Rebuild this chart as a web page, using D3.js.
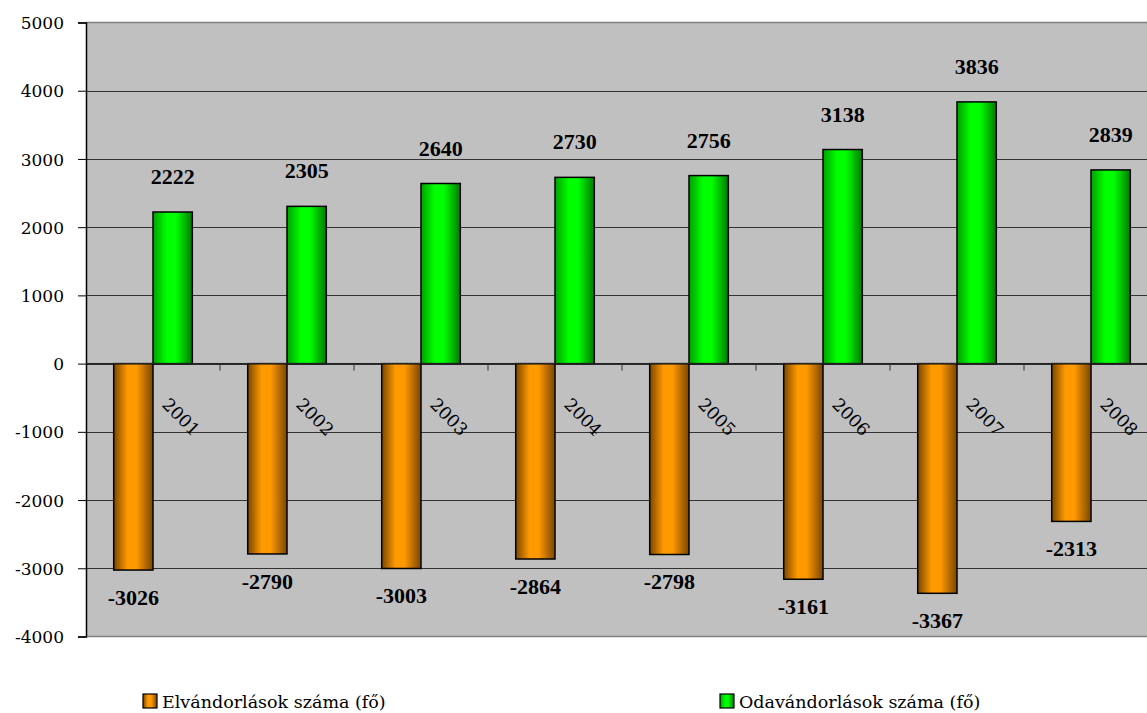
<!DOCTYPE html>
<html>
<head>
<meta charset="utf-8">
<script src="https://cdn.jsdelivr.net/npm/d3@7"></script>
<style>
  html, body { margin: 0; padding: 0; background: #ffffff; }
  svg { display: block; }
</style>
</head>
<body>
<svg id="chart" width="1147" height="713"></svg>
<script>
const years = ["2001", "2002", "2003", "2004", "2005", "2006", "2007", "2008"];
const elvandorlasok = [-3026, -2790, -3003, -2864, -2798, -3161, -3367, -2313];
const odavandorlasok = [2222, 2305, 2640, 2730, 2756, 3138, 3836, 2839];
const seriesNames = ["Elvándorlások száma (fő)", "Odavándorlások száma (fő)"];
const yTicks = [-4000, -3000, -2000, -1000, 0, 1000, 2000, 3000, 4000, 5000];

const svg = d3.select("#chart");
const plot = { left: 86, right: 1158, top: 22.5, bottom: 636.5 };

const x = d3.scaleBand().domain(years).range([plot.left, plot.right]).paddingInner(0).paddingOuter(0);
const sub = d3.scaleBand().domain([0, 1]).range([0, x.bandwidth()]).paddingInner(0).paddingOuter(0.705);
const y = d3.scaleLinear().domain([-4000, 5000]).range([plot.bottom, plot.top]);

// gradients
const defs = svg.append("defs");
function grad(id, dark1, bright, dark2) {
  const g = defs.append("linearGradient").attr("id", id).attr("x1", "0%").attr("x2", "100%").attr("y1", "0%").attr("y2", "0%");
  g.append("stop").attr("offset", "0%").attr("stop-color", dark1);
  g.append("stop").attr("offset", "35%").attr("stop-color", bright);
  g.append("stop").attr("offset", "58%").attr("stop-color", bright);
  g.append("stop").attr("offset", "100%").attr("stop-color", dark2);
}
grad("gOrange", "#7a4600", "#ff9900", "#7a4600");
grad("gGreen", "#00a000", "#00ff00", "#007a00");
const fills = ["url(#gOrange)", "url(#gGreen)"];

// plot background
svg.append("rect")
  .attr("x", plot.left).attr("y", plot.top)
  .attr("width", plot.right - plot.left).attr("height", plot.bottom - plot.top)
  .attr("fill", "#c0c0c0");

// gridlines
svg.append("g").selectAll("line").data(yTicks.filter(t => t !== 5000 && t !== -4000)).join("line")
  .attr("x1", plot.left).attr("x2", plot.right)
  .attr("y1", d => Math.round(y(d)) + 0.5).attr("y2", d => Math.round(y(d)) + 0.5)
  .attr("stroke", "#333333").attr("stroke-width", 1);

// plot border top / bottom
svg.append("line").attr("x1", plot.left).attr("x2", plot.right)
  .attr("y1", y(5000)).attr("y2", y(5000)).attr("stroke", "#808080").attr("stroke-width", 1.5);
svg.append("line").attr("x1", plot.left).attr("x2", plot.right)
  .attr("y1", y(-4000)).attr("y2", y(-4000)).attr("stroke", "#808080").attr("stroke-width", 1.5);

// y axis
const yAxis = d3.axisLeft(y).tickValues(yTicks).tickSize(8).tickPadding(14).tickFormat(d => String(d));
const gy = svg.append("g").attr("transform", `translate(${plot.left},0)`).call(yAxis);
gy.select(".domain").attr("stroke", "#000").attr("stroke-width", 1.5);
gy.selectAll(".tick line").attr("stroke", "#000");
gy.selectAll(".tick text")
  .attr("font-family", "'DejaVu Serif', serif").attr("font-size", 17).attr("fill", "#000")
  .attr("dy", "0.36em");

// bars
const data = [];
years.forEach((yr, i) => {
  data.push({ yr, s: 0, v: elvandorlasok[i] });
  data.push({ yr, s: 1, v: odavandorlasok[i] });
});

svg.append("g").selectAll("rect").data(data).join("rect")
  .attr("x", d => x(d.yr) + sub(d.s))
  .attr("width", sub.bandwidth())
  .attr("y", d => y(Math.max(0, d.v)))
  .attr("height", d => Math.abs(y(d.v) - y(0)))
  .attr("fill", d => fills[d.s])
  .attr("stroke", "#000").attr("stroke-width", 1.5);

// zero axis line with category ticks
svg.append("line").attr("x1", plot.left).attr("x2", plot.right)
  .attr("y1", y(0)).attr("y2", y(0)).attr("stroke", "#222").attr("stroke-width", 1.2);
svg.append("g").selectAll("line").data(years.slice(1)).join("line")
  .attr("x1", d => x(d)).attr("x2", d => x(d))
  .attr("y1", y(0)).attr("y2", y(0) + 7)
  .attr("stroke", "#333").attr("stroke-width", 1);

// category labels, rotated 45 degrees
svg.append("g").selectAll("text").data(years).join("text")
  .attr("transform", d => `translate(${x(d) + x.bandwidth() / 2 + 8},${y(0) + 42}) rotate(45)`)
  .attr("font-family", "'DejaVu Serif', serif").attr("font-size", 17.5).attr("fill", "#000")
  .text(d => d);

// value labels
svg.append("g").selectAll("text").data(data).join("text")
  .attr("x", d => x(d.yr) + sub(d.s) + sub.bandwidth() / 2)
  .attr("y", d => d.v >= 0 ? y(d.v) - 28 : y(d.v) + 35)
  .attr("text-anchor", "middle")
  .attr("font-family", "'Liberation Serif', serif").attr("font-weight", "bold")
  .attr("font-size", 22).attr("fill", "#000")
  .text(d => String(d.v));

// legend
const legendX = [143, 720];
const lg = svg.append("g").selectAll("g").data(seriesNames).join("g")
  .attr("transform", (d, i) => `translate(${legendX[i]},694)`);
lg.append("rect").attr("width", 14).attr("height", 14)
  .attr("fill", (d, i) => fills[i]).attr("stroke", "#000").attr("stroke-width", 1.2);
lg.append("text").attr("x", 19).attr("y", 13.5)
  .attr("font-family", "'DejaVu Serif', serif").attr("font-size", 17.5).attr("fill", "#000")
  .text(d => d);
</script>
</body>
</html>
